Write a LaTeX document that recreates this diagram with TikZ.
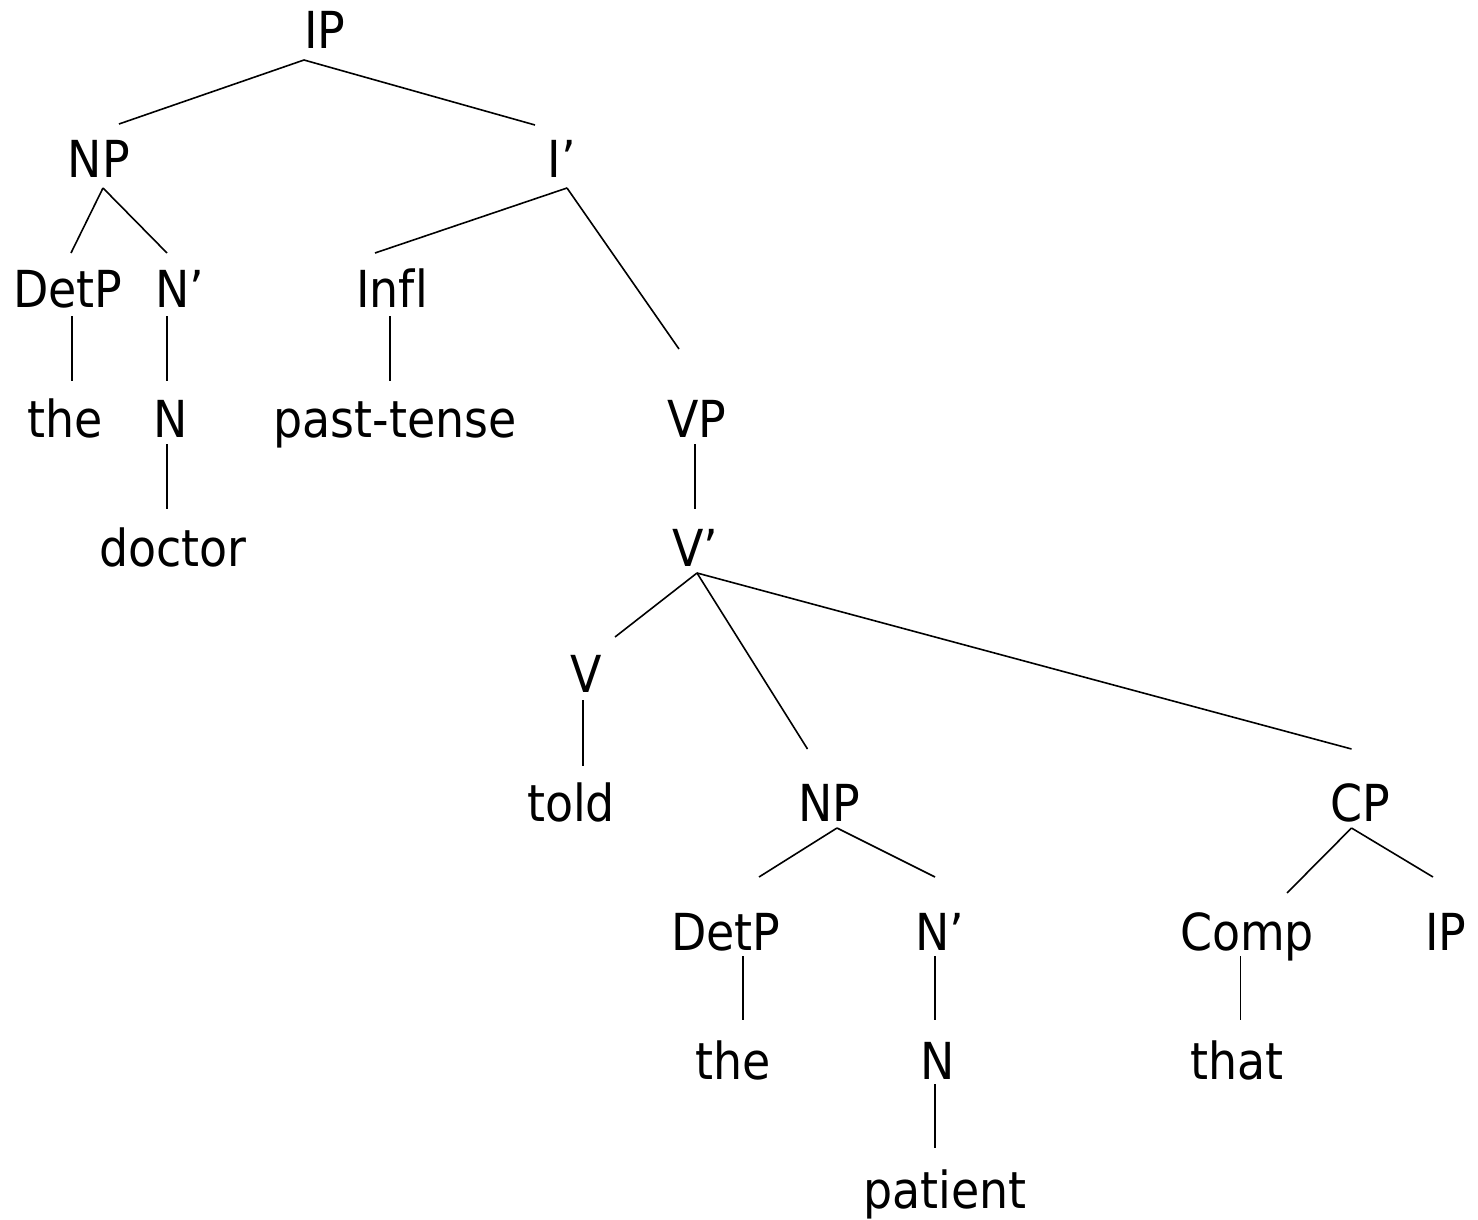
\documentclass[tikz,border=0pt]{standalone}
\usepackage{fontspec}
\setmainfont{DejaVu Sans}[FakeStretch=0.9,Ligatures=NoCommon]
\newcommand\treeline[4]{\draw ([shift={#2}]#1.base) -- ([shift={#4}]#3.base);}
\begin{document}
\begin{tikzpicture}[x=1pt,y=-1pt,
  lbl/.style={inner sep=0pt,anchor=base,font=\fontsize{51}{60}\selectfont},
  every path/.style={line width=1.6pt}]
\useasboundingbox (0,0) rectangle (1478,1220);
% nodes
\node[lbl] (IP) at (325,49) {IP};
\node[lbl] (NP) at (99,178) {NP};
\node[lbl] (Ibar) at (562,178) {I’};
\node[lbl] (DetP) at (68,307) {DetP};
\node[lbl] (Nbar) at (180,307) {N’};
\node[lbl] (Infl) at (392,307) {Infl};
\node[lbl] (the) at (65,437) {the};
\node[lbl] (N) at (171,437) {N};
\node[lbl] (past) at (395,437) {past-tense};
\node[lbl] (VP) at (697,437) {VP};
\node[lbl] (doctor) at (173,566) {doctor};
\node[lbl] (Vbar) at (695,566) {V’};
\node[lbl] (V) at (586,692) {V};
\node[lbl] (told) at (571,821) {told};
\node[lbl] (NPb) at (829,821) {NP};
\node[lbl] (CP) at (1360,821) {CP};
\node[lbl] (DetPb) at (726,950) {DetP};
\node[lbl] (Nbarb) at (940,950) {N’};
\node[lbl] (Comp) at (1247,950) {Comp};
\node[lbl] (IPb) at (1446,950) {IP};
\node[lbl] (theb) at (733,1079) {the};
\node[lbl] (Nb) at (938,1079) {N};
\node[lbl] (that) at (1237,1079) {that};
\node[lbl] (patient) at (945,1208) {patient};
% connectors
\treeline{IP}{(-21,11)}{NP}{(20,-54)}
\treeline{IP}{(-21,11)}{Ibar}{(-27,-53)}
\treeline{NP}{(4,10)}{DetP}{(3,-54)}
\treeline{NP}{(4,10)}{Nbar}{(-13,-54)}
\treeline{Ibar}{(5,10)}{Infl}{(-17,-54)}
\treeline{Ibar}{(5,10)}{VP}{(-18,-88)}
\treeline{DetP}{(4,9)}{the}{(7,-56)}
\treeline{Nbar}{(-13,9)}{N}{(-4,-56)}
\treeline{Infl}{(-2,9)}{past}{(-5,-56)}
\treeline{N}{(-4,7)}{doctor}{(-6,-57)}
\treeline{VP}{(-2,7)}{Vbar}{(0,-57)}
\treeline{Vbar}{(2,7)}{V}{(29,-55)}
\treeline{Vbar}{(2,7)}{NPb}{(-21.5,-72)}
\treeline{Vbar}{(2,7)}{CP}{(-8.5,-72)}
\treeline{V}{(-3,8)}{told}{(12,-55)}
\treeline{NPb}{(8,7)}{DetPb}{(33,-73)}
\treeline{NPb}{(8,7)}{Nbarb}{(-5,-73)}
\treeline{CP}{(-8.5,7)}{Comp}{(40,-57)}
\treeline{CP}{(-8.5,7)}{IPb}{(-13,-73)}
\treeline{DetPb}{(17,6)}{theb}{(10,-59)}
\treeline{Nbarb}{(-5,6)}{Nb}{(-3,-59)}
\treeline{Comp}{(-6.5,6)}{that}{(3.5,-59)}
\treeline{Nb}{(-3,5)}{patient}{(-10,-60)}
\end{tikzpicture}
\end{document}
